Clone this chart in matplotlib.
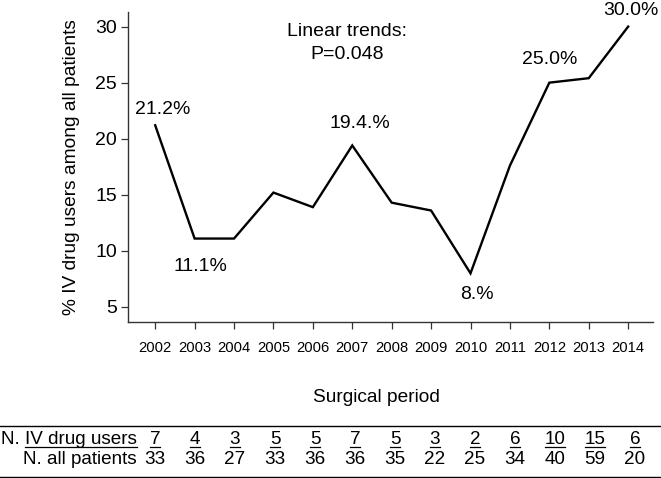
import matplotlib
matplotlib.use('Agg')
import matplotlib.pyplot as plt
from matplotlib.lines import Line2D

plt.rcParams['font.family'] = ['Liberation Sans', 'DejaVu Sans']

years = [2002, 2003, 2004, 2005, 2006, 2007, 2008, 2009, 2010, 2011, 2012, 2013, 2014]
pct_iv = [21.2, 11.1, 11.1, 15.2, 13.9, 19.4, 14.3, 13.6, 8.0, 17.6, 25.0, 25.4, 30.0]
n_iv = [7, 4, 3, 5, 5, 7, 5, 3, 2, 6, 10, 15, 6]
n_all = [33, 36, 27, 33, 36, 36, 35, 22, 25, 34, 40, 59, 20]
y_ticks = [5, 10, 15, 20, 25, 30]

point_labels = ['21.2%', '11.1%', '19.4.%', '8.%', '25.0%', '30.0%']
label_at = [2002, 2003, 2007, 2010, 2012, 2014]

W, H = 661, 478
fig = plt.figure(figsize=(W / 100, H / 100), dpi=100)
ax = fig.add_axes([128 / W, 1 - 322 / H, (653 - 128) / W, (322 - 12) / H])

ax.plot(years, pct_iv, color='black', lw=1.7, solid_joinstyle='miter')
ax.set_xlim(2001.31, 2014.63)
ax.set_ylim(3.66, 31.3)
ax.set_xticks(years)
ax.set_xticklabels([str(y) for y in years], fontsize=10.6)
ax.set_yticks(y_ticks)
ax.set_yticklabels([str(v) for v in y_ticks], fontsize=14)
ax.tick_params(axis='x', length=5, width=0.9, pad=9, color='#333333')
ax.tick_params(axis='y', length=5, width=0.9, pad=3, color='#333333')
for s in ['top', 'right']:
    ax.spines[s].set_visible(False)
for s in ['left', 'bottom']:
    ax.spines[s].set_linewidth(1.0)
    ax.spines[s].set_color('#333333')

ax.set_ylabel('% IV drug users among all patients', fontsize=13.8)
ax.yaxis.set_label_coords(-0.091, 0.5)

# labels above / below points
offsets = {2002: (0.2, 1.4), 2003: (0.14, -2.45), 2007: (0.2, 1.98),
           2010: (0.17, -1.93), 2012: (0.0, 2.1), 2014: (0.06, 1.43)}
for txt, yr in zip(point_labels, label_at):
    i = years.index(yr)
    dx, dy = offsets[yr]
    ax.text(yr + dx, pct_iv[i] + dy, txt, ha='center', va='center',
            fontsize=14, clip_on=False)

ax.text(2006.87, 29.55, 'Linear trends:', ha='center', va='center', fontsize=14)
ax.text(2006.87, 27.5, 'P=0.048', ha='center', va='center', fontsize=14)

fig.text(376 / W, 1 - 398 / H, 'Surgical period', ha='center', va='center', fontsize=13.8)

# table under the chart
fig.add_artist(Line2D([0, 1], [1 - 426 / H, 1 - 426 / H], color='black', lw=1.0))
fig.add_artist(Line2D([0, 1], [1 - 477 / H, 1 - 477 / H], color='black', lw=1.0))

row1_y = 1 - 440 / H
row2_y = 1 - 459 / H
lab_x = 137 / W
tsize = 13.6

fig.canvas.draw()
renderer = fig.canvas.get_renderer()
inv = fig.transFigure.inverted()


def underline(t, x0=None):
    bb = t.get_window_extent(renderer)
    (fx0, fy0), (fx1, fy1) = inv.transform([(bb.x0, bb.y0), (bb.x1, bb.y1)])
    if x0 is not None:
        fx0 = x0
    yline = fy0 + 1.5 / H
    fig.add_artist(Line2D([fx0, fx1], [yline, yline], color='black', lw=0.9))


t1 = fig.text(lab_x, row1_y, 'N. IV drug users', ha='right', va='center', fontsize=tsize)
fig.text(lab_x, row2_y, 'N. all patients', ha='right', va='center', fontsize=tsize)
# underline only "IV drug users"
tpre = fig.text(0, row1_y, 'N. ', ha='left', va='center', fontsize=tsize, alpha=0)
pre_w = tpre.get_window_extent(renderer).width
bb1 = t1.get_window_extent(renderer)
underline(t1, x0=(bb1.x0 + pre_w) / W)

for i, yr in enumerate(years):
    px = 155 + i * 40.0
    xf = px / W
    ta = fig.text(xf, row1_y, str(n_iv[i]), ha='center', va='center', fontsize=tsize)
    underline(ta)
    fig.text(xf, row2_y, str(n_all[i]), ha='center', va='center', fontsize=tsize)

fig.savefig('out.png', dpi=100)
